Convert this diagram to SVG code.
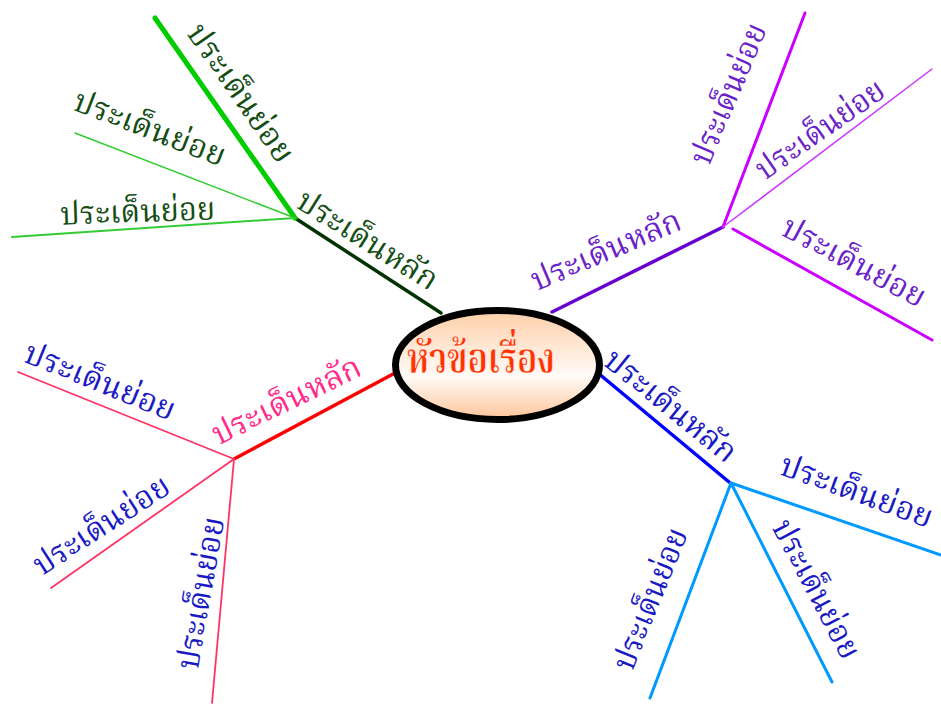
<svg xmlns="http://www.w3.org/2000/svg" width="941" height="704" viewBox="0 0 941 704">
<defs>
<linearGradient id="peach" x1="0" y1="0" x2="0" y2="1">
<stop offset="0" stop-color="#ffcfa8"/>
<stop offset="0.6" stop-color="#fffbf7"/>
<stop offset="1" stop-color="#ffc59a"/>
</linearGradient>
<style>
.lbl{font-family:"Noto Serif Thai","Noto Sans Thai","Loma","Garuda",serif;font-size:32px;text-anchor:middle}
.green{fill:#134d13}
.purple{fill:#6a22c8}
.pink{fill:#ff2a8a}
.navy{fill:#1a1ac4}
.title{font-family:"Noto Serif Thai","Noto Sans Thai","Loma",serif;font-size:42px;font-weight:bold;fill:#ff3300;stroke:#ffffff;stroke-width:0.6;text-anchor:middle}
line{stroke-linecap:round}
</style>
</defs>
<rect width="941" height="704" fill="#ffffff"/>
<g id="connectors" fill="none">
<line x1="441" y1="313" x2="295" y2="218" stroke="#003300" stroke-width="3.5"/>
<line x1="295" y1="218" x2="155" y2="18" stroke="#00cc00" stroke-width="5"/>
<line x1="295" y1="218" x2="75" y2="133" stroke="#33cc33" stroke-width="1.5"/>
<line x1="295" y1="218" x2="12" y2="237" stroke="#33cc33" stroke-width="2"/>
<line x1="552" y1="312" x2="723" y2="227" stroke="#6600cc" stroke-width="3.5"/>
<line x1="723" y1="227" x2="805" y2="13" stroke="#cc00ff" stroke-width="3"/>
<line x1="723" y1="227" x2="932" y2="69" stroke="#cc33ff" stroke-width="1.5"/>
<line x1="733" y1="229" x2="932" y2="340" stroke="#cc00ff" stroke-width="3"/>
<line x1="395" y1="373" x2="234" y2="459" stroke="#ff0000" stroke-width="3.5"/>
<line x1="234" y1="459" x2="18" y2="372" stroke="#ff3366" stroke-width="1.8"/>
<line x1="234" y1="459" x2="51" y2="588" stroke="#ff3366" stroke-width="1.8"/>
<line x1="234" y1="459" x2="212" y2="703" stroke="#ff3366" stroke-width="1.8"/>
<line x1="598" y1="373" x2="729" y2="482" stroke="#0000ff" stroke-width="3.5"/>
<line x1="731" y1="483" x2="941" y2="555" stroke="#0099ff" stroke-width="3"/>
<line x1="731" y1="483" x2="832" y2="682" stroke="#0099ff" stroke-width="3"/>
<line x1="731" y1="483" x2="650" y2="698" stroke="#0099ff" stroke-width="3"/>
</g>
<g id="center">
<ellipse cx="497.5" cy="365" rx="102" ry="54.5" fill="url(#peach)" stroke="#000000" stroke-width="7"/>
<text class="title" x="481" y="373" textLength="148" lengthAdjust="spacingAndGlyphs">หัวข้อเรื่อง</text>
</g>
<g id="tl-main"><text class="lbl green" transform="translate(362,249) rotate(32)" textLength="160" lengthAdjust="spacingAndGlyphs">ประเด็นหลัก</text></g>
<g id="tl-sub1"><text class="lbl green" transform="translate(232,99) rotate(55)" textLength="162" lengthAdjust="spacingAndGlyphs">ประเด็นย่อย</text></g>
<g id="tl-sub2"><text class="lbl green" transform="translate(146,138) rotate(21)" textLength="160" lengthAdjust="spacingAndGlyphs">ประเด็นย่อย</text></g>
<g id="tl-sub3"><text class="lbl green" transform="translate(138,222) rotate(-2)" textLength="155" lengthAdjust="spacingAndGlyphs">ประเด็นย่อย</text></g>
<g id="tr-main"><text class="lbl purple" transform="translate(610,260) rotate(-23)" textLength="160" lengthAdjust="spacingAndGlyphs">ประเด็นหลัก</text></g>
<g id="tr-sub1"><text class="lbl purple" transform="translate(738,98) rotate(-67)" textLength="150" lengthAdjust="spacingAndGlyphs">ประเด็นย่อย</text></g>
<g id="tr-sub2"><text class="lbl purple" transform="translate(826,138) rotate(-35)" textLength="150" lengthAdjust="spacingAndGlyphs">ประเด็นย่อย</text></g>
<g id="tr-sub3"><text class="lbl purple" transform="translate(849,271) rotate(28)" textLength="158" lengthAdjust="spacingAndGlyphs">ประเด็นย่อย</text></g>
<g id="bl-main"><text class="lbl pink" transform="translate(291,410) rotate(-26)" textLength="162" lengthAdjust="spacingAndGlyphs">ประเด็นหลัก</text></g>
<g id="bl-sub1"><text class="lbl navy" transform="translate(96,391) rotate(22)" textLength="160" lengthAdjust="spacingAndGlyphs">ประเด็นย่อย</text></g>
<g id="bl-sub2"><text class="lbl navy" transform="translate(107,534) rotate(-33)" textLength="156" lengthAdjust="spacingAndGlyphs">ประเด็นย่อย</text></g>
<g id="bl-sub3"><text class="lbl navy" transform="translate(211,595) rotate(-80)" textLength="154" lengthAdjust="spacingAndGlyphs">ประเด็นย่อย</text></g>
<g id="br-main"><text class="lbl navy" transform="translate(664,414) rotate(39)" textLength="160" lengthAdjust="spacingAndGlyphs">ประเด็นหลัก</text></g>
<g id="br-sub1"><text class="lbl navy" transform="translate(853,501) rotate(20)" textLength="160" lengthAdjust="spacingAndGlyphs">ประเด็นย่อย</text></g>
<g id="br-sub2"><text class="lbl navy" transform="translate(807,594) rotate(62)" textLength="153" lengthAdjust="spacingAndGlyphs">ประเด็นย่อย</text></g>
<g id="br-sub3"><text class="lbl navy" transform="translate(660,603) rotate(-68)" textLength="150" lengthAdjust="spacingAndGlyphs">ประเด็นย่อย</text></g>
</svg>
